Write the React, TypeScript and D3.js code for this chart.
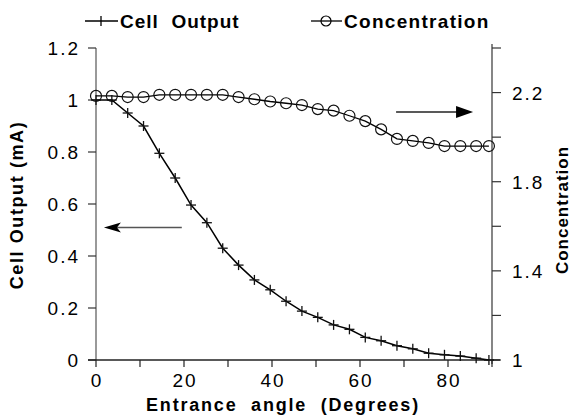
import React from "react";
import * as d3 from "d3";

const angles = [0, 3.6, 7.2, 10.8, 14.4, 18, 21.6, 25.2, 28.8, 32.4, 36, 39.6, 43.2, 46.8, 50.4, 54, 57.6, 61.2, 64.8, 68.4, 72, 75.6, 79.2, 82.8, 86.4, 89.3];
const cellOutput = [1.0, 1.0, 0.95, 0.9, 0.795, 0.7, 0.596, 0.528, 0.43, 0.365, 0.308, 0.27, 0.226, 0.188, 0.164, 0.135, 0.118, 0.087, 0.074, 0.055, 0.043, 0.026, 0.02, 0.015, 0.007, 0.0];
const concentration = [2.185, 2.185, 2.18, 2.18, 2.19, 2.19, 2.19, 2.19, 2.19, 2.18, 2.17, 2.16, 2.152, 2.144, 2.126, 2.119, 2.096, 2.072, 2.035, 1.992, 1.983, 1.974, 1.96, 1.96, 1.96, 1.96];

const xTicks = [0, 10, 20, 30, 40, 50, 60, 70, 80, 90];
const xLabels = [0, 20, 40, 60, 80];
const leftTicks = [0, 0.2, 0.4, 0.6, 0.8, 1, 1.2];
const rightTicks = [1, 1.2, 1.4, 1.6, 1.8, 2, 2.2, 2.4];
const rightLabels = [1, 1.4, 1.8, 2.2];

const W = 572, H = 415;
const L = 96, R = 492, T = 48, B = 360;
const FONT = "'Liberation Sans', Arial, Helvetica, sans-serif";
const PRE: React.CSSProperties = { whiteSpace: "pre" };

export default function App() {
  const x = d3.scaleLinear().domain([0, 90]).range([L, R]);
  const yL = d3.scaleLinear().domain([0, 1.2]).range([B, T]);
  const yR = d3.scaleLinear().domain([1, 2.4]).range([B, T]);

  const cellLine = d3.line<number>().x((_, i) => x(angles[i])).y((d) => yL(d))(cellOutput) || "";
  const concLine = d3.line<number>().x((_, i) => x(angles[i])).y((d) => yR(d))(concentration) || "";

  const fmt = (v: number) => String(+v.toFixed(1));

  // arrows (annotation positions in data coords)
  const la = { x1: x(19.5), x2: x(1.8), y: yL(0.51) };
  const ra = { x1: x(68.2), x2: x(85.7), y: yR(2.113) };

  return (
    <svg width={W} height={H} style={{ display: "block", position: "absolute", left: 0, top: 0, background: "#fff" }} fontFamily={FONT}>
      {/* legend */}
      <g>
        <line x1={85} x2={118} y1={21} y2={21} stroke="#000" strokeWidth={1.3} />
        <line x1={101} x2={101} y1={16} y2={26} stroke="#000" strokeWidth={1.3} />
        <text x={120} y={28} fontSize={19} fontWeight="bold" letterSpacing={1} style={PRE}>{"Cell  Output"}</text>
        <line x1={311} x2={342} y1={21} y2={21} stroke="#000" strokeWidth={1.3} />
        <circle cx={326} cy={21} r={5} fill="none" stroke="#000" strokeWidth={1.2} />
        <text x={344} y={28} fontSize={19} fontWeight="bold" letterSpacing={1.3}>Concentration</text>
      </g>

      {/* left axis */}
      <line x1={L} x2={L} y1={T} y2={B} stroke="#777" strokeWidth={1.5} />
      {leftTicks.map((t) => (
        <g key={"l" + t}>
          <line x1={L - 8} x2={L} y1={yL(t)} y2={yL(t)} stroke="#333" strokeWidth={1.2} />
          <text x={80} y={yL(t) + 7} fontSize={19} textAnchor="end" letterSpacing={2}>{fmt(t)}</text>
        </g>
      ))}

      {/* right axis */}
      <line x1={R} x2={R} y1={T - 4} y2={B + 4} stroke="#444" strokeWidth={1.3} />
      {rightTicks.map((t) => (
        <line key={"r" + t} x1={R} x2={R + 9} y1={yR(t)} y2={yR(t)} stroke="#333" strokeWidth={1.2} />
      ))}
      {rightLabels.map((t) => (
        <text key={"rl" + t} x={512} y={yR(t) + 7} fontSize={19} letterSpacing={2}>{fmt(t)}</text>
      ))}

      {/* x axis */}
      <line x1={L - 8} x2={R + 8} y1={B} y2={B} stroke="#222" strokeWidth={1.3} />
      {xTicks.map((t) => (
        <line key={"x" + t} x1={x(t)} x2={x(t)} y1={B} y2={B + 7} stroke="#222" strokeWidth={1.2} />
      ))}
      {xLabels.map((t) => (
        <text key={"xl" + t} x={x(t) + 1} y={387} fontSize={19} textAnchor="middle" letterSpacing={2}>{t}</text>
      ))}

      {/* titles */}
      <text x={283} y={411} fontSize={18} fontWeight="bold" textAnchor="middle" letterSpacing={1.8} style={PRE}>{"Entrance  angle  (Degrees)"}</text>
      <text transform={`translate(23,205) rotate(-90)`} fontSize={18} fontWeight="bold" textAnchor="middle" letterSpacing={1.6}>Cell Output (mA)</text>
      <text transform={`translate(568,210) rotate(-90)`} fontSize={17} fontWeight="bold" textAnchor="middle" letterSpacing={1}>Concentration</text>

      {/* series */}
      <path d={concLine} fill="none" stroke="#000" strokeWidth={1.3} />
      {concentration.map((v, i) => (
        <circle key={"c" + i} cx={x(angles[i])} cy={yR(v)} r={5.5} fill="none" stroke="#111" strokeWidth={1.2} />
      ))}
      <path d={cellLine} fill="none" stroke="#000" strokeWidth={1.5} />
      {cellOutput.map((v, i) => (
        <g key={"p" + i} stroke="#111" strokeWidth={1.3}>
          <line x1={x(angles[i]) - 5} x2={x(angles[i]) + 5} y1={yL(v)} y2={yL(v)} />
          <line x1={x(angles[i])} x2={x(angles[i])} y1={yL(v) - 5} y2={yL(v) + 5} />
        </g>
      ))}

      {/* arrows */}
      <line x1={la.x1} x2={la.x2 + 10} y1={la.y} y2={la.y} stroke="#555" strokeWidth={1.5} />
      <path d={`M${la.x2},${la.y} L${la.x2 + 17},${la.y - 5} L${la.x2 + 13},${la.y} L${la.x2 + 17},${la.y + 5} Z`} fill="#000" />
      <line x1={ra.x1} x2={ra.x2 - 10} y1={ra.y} y2={ra.y} stroke="#222" strokeWidth={1.5} />
      <path d={`M${ra.x2},${ra.y} L${ra.x2 - 17},${ra.y - 6} L${ra.x2 - 17},${ra.y + 6} Z`} fill="#000" />
    </svg>
  );
}
